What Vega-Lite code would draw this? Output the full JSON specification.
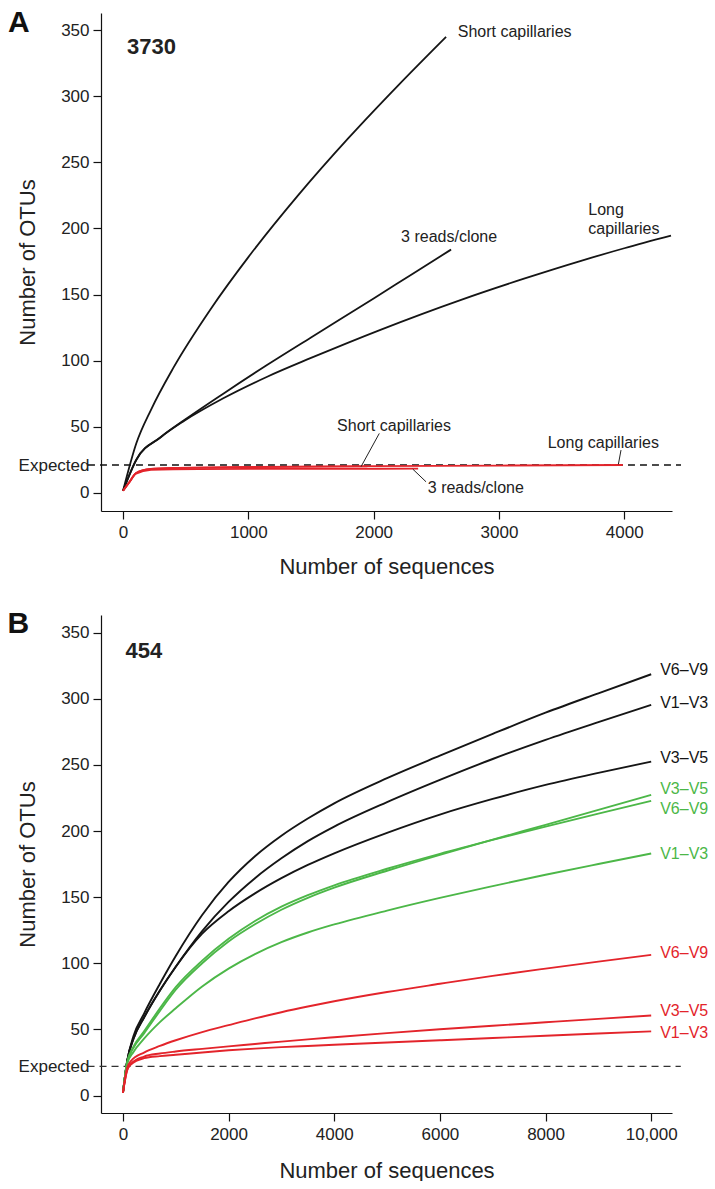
{
  "$schema": "https://vega.github.io/schema/vega-lite/v6.json",
  "background": "white",
  "padding": {"left": 7, "top": 8, "right": 0, "bottom": 0},
  "spacing": 31,
  "resolve": {"scale": {"color": "independent"}},
  "config": {
    "view": {"stroke": null},
    "font": "Liberation Sans",
    "axis": {"domainColor": "#111", "tickColor": "#111", "labelColor": "#222", "titleColor": "#222", "labelFont": "Liberation Sans", "titleFont": "Liberation Sans", "labelFontSize": 17, "titleFontSize": 22, "titleFontWeight": "normal", "grid": false, "tickSize": 8, "domainWidth": 1.2, "tickWidth": 1.2, "labelPadding": 4},
    "text": {"font": "Liberation Sans"}
  },
  "datasets": {
    "curvesA": [
      {"s": "A_short", "g": "black", "x": 0, "y": 1.5}, {"s": "A_short", "g": "black", "x": 106, "y": 37.4}, {"s": "A_short", "g": "black", "x": 223, "y": 62.8}, {"s": "A_short", "g": "black", "x": 400, "y": 94.3}, {"s": "A_short", "g": "black", "x": 700, "y": 139.1}, {"s": "A_short", "g": "black", "x": 1000, "y": 178.3}, {"s": "A_short", "g": "black", "x": 1400, "y": 225.4}, {"s": "A_short", "g": "black", "x": 1800, "y": 268.5}, {"s": "A_short", "g": "black", "x": 2200, "y": 308.7}, {"s": "A_short", "g": "black", "x": 2578, "y": 345},
      {"s": "A_3r", "g": "black", "x": 0, "y": 1.5}, {"s": "A_3r", "g": "black", "x": 106, "y": 25}, {"s": "A_3r", "g": "black", "x": 300, "y": 42}, {"s": "A_3r", "g": "black", "x": 489, "y": 55}, {"s": "A_3r", "g": "black", "x": 800, "y": 75}, {"s": "A_3r", "g": "black", "x": 1155, "y": 97}, {"s": "A_3r", "g": "black", "x": 1500, "y": 117.5}, {"s": "A_3r", "g": "black", "x": 2000, "y": 147}, {"s": "A_3r", "g": "black", "x": 2300, "y": 165}, {"s": "A_3r", "g": "black", "x": 2618, "y": 184},
      {"s": "A_long", "g": "black", "x": 0, "y": 1.5}, {"s": "A_long", "g": "black", "x": 106, "y": 25}, {"s": "A_long", "g": "black", "x": 300, "y": 42}, {"s": "A_long", "g": "black", "x": 489, "y": 54.5}, {"s": "A_long", "g": "black", "x": 800, "y": 71.5}, {"s": "A_long", "g": "black", "x": 1155, "y": 88}, {"s": "A_long", "g": "black", "x": 1500, "y": 102}, {"s": "A_long", "g": "black", "x": 2059, "y": 123.5}, {"s": "A_long", "g": "black", "x": 2698, "y": 146}, {"s": "A_long", "g": "black", "x": 3200, "y": 162}, {"s": "A_long", "g": "black", "x": 3655, "y": 175.5}, {"s": "A_long", "g": "black", "x": 4000, "y": 185}, {"s": "A_long", "g": "black", "x": 4373, "y": 194.5},
      {"s": "A_short_r", "g": "red", "x": 0, "y": 1.5}, {"s": "A_short_r", "g": "red", "x": 50, "y": 8}, {"s": "A_short_r", "g": "red", "x": 104, "y": 15}, {"s": "A_short_r", "g": "red", "x": 223, "y": 18}, {"s": "A_short_r", "g": "red", "x": 400, "y": 18.6}, {"s": "A_short_r", "g": "red", "x": 1000, "y": 19.3}, {"s": "A_short_r", "g": "red", "x": 1500, "y": 19.7}, {"s": "A_short_r", "g": "red", "x": 1950, "y": 20},
      {"s": "A_3r_r", "g": "red", "x": 0, "y": 1.5}, {"s": "A_3r_r", "g": "red", "x": 50, "y": 8}, {"s": "A_3r_r", "g": "red", "x": 104, "y": 14.5}, {"s": "A_3r_r", "g": "red", "x": 223, "y": 17.3}, {"s": "A_3r_r", "g": "red", "x": 400, "y": 17.8}, {"s": "A_3r_r", "g": "red", "x": 1000, "y": 18}, {"s": "A_3r_r", "g": "red", "x": 1700, "y": 18.1}, {"s": "A_3r_r", "g": "red", "x": 2355, "y": 18.2},
      {"s": "A_long_r", "g": "red", "x": 0, "y": 1.5}, {"s": "A_long_r", "g": "red", "x": 50, "y": 8}, {"s": "A_long_r", "g": "red", "x": 104, "y": 15}, {"s": "A_long_r", "g": "red", "x": 223, "y": 18}, {"s": "A_long_r", "g": "red", "x": 400, "y": 18.8}, {"s": "A_long_r", "g": "red", "x": 1000, "y": 19.5}, {"s": "A_long_r", "g": "red", "x": 2000, "y": 20.1}, {"s": "A_long_r", "g": "red", "x": 3000, "y": 20.6}, {"s": "A_long_r", "g": "red", "x": 3988, "y": 21}
    ],
    "curvesB": [
      {"s": "BK69", "g": "black", "x": 0, "y": 2}, {"s": "BK69", "g": "black", "x": 80, "y": 26}, {"s": "BK69", "g": "black", "x": 200, "y": 45}, {"s": "BK69", "g": "black", "x": 400, "y": 62}, {"s": "BK69", "g": "black", "x": 700, "y": 84.5}, {"s": "BK69", "g": "black", "x": 1000, "y": 105.5}, {"s": "BK69", "g": "black", "x": 1500, "y": 136.5}, {"s": "BK69", "g": "black", "x": 2000, "y": 161.5}, {"s": "BK69", "g": "black", "x": 2500, "y": 181}, {"s": "BK69", "g": "black", "x": 3000, "y": 196.5}, {"s": "BK69", "g": "black", "x": 3500, "y": 209.5}, {"s": "BK69", "g": "black", "x": 4000, "y": 221}, {"s": "BK69", "g": "black", "x": 5000, "y": 240}, {"s": "BK69", "g": "black", "x": 6000, "y": 257}, {"s": "BK69", "g": "black", "x": 7000, "y": 273.5}, {"s": "BK69", "g": "black", "x": 8000, "y": 289.5}, {"s": "BK69", "g": "black", "x": 9000, "y": 304.2}, {"s": "BK69", "g": "black", "x": 10000, "y": 318.6},
      {"s": "BK13", "g": "black", "x": 0, "y": 2}, {"s": "BK13", "g": "black", "x": 80, "y": 26}, {"s": "BK13", "g": "black", "x": 200, "y": 43}, {"s": "BK13", "g": "black", "x": 400, "y": 59}, {"s": "BK13", "g": "black", "x": 700, "y": 79.4}, {"s": "BK13", "g": "black", "x": 1000, "y": 97.4}, {"s": "BK13", "g": "black", "x": 1500, "y": 124.4}, {"s": "BK13", "g": "black", "x": 2000, "y": 146.4}, {"s": "BK13", "g": "black", "x": 2500, "y": 164.4}, {"s": "BK13", "g": "black", "x": 3000, "y": 179.4}, {"s": "BK13", "g": "black", "x": 3500, "y": 192.4}, {"s": "BK13", "g": "black", "x": 4000, "y": 203.4}, {"s": "BK13", "g": "black", "x": 5000, "y": 221.9}, {"s": "BK13", "g": "black", "x": 6000, "y": 238.7}, {"s": "BK13", "g": "black", "x": 7000, "y": 254.5}, {"s": "BK13", "g": "black", "x": 8000, "y": 269}, {"s": "BK13", "g": "black", "x": 9000, "y": 282.4}, {"s": "BK13", "g": "black", "x": 10000, "y": 295.4},
      {"s": "BK35", "g": "black", "x": 0, "y": 2}, {"s": "BK35", "g": "black", "x": 80, "y": 26}, {"s": "BK35", "g": "black", "x": 200, "y": 43}, {"s": "BK35", "g": "black", "x": 400, "y": 59}, {"s": "BK35", "g": "black", "x": 700, "y": 79.4}, {"s": "BK35", "g": "black", "x": 1000, "y": 97.4}, {"s": "BK35", "g": "black", "x": 1500, "y": 122.4}, {"s": "BK35", "g": "black", "x": 2000, "y": 139.4}, {"s": "BK35", "g": "black", "x": 2500, "y": 152.9}, {"s": "BK35", "g": "black", "x": 3000, "y": 164.4}, {"s": "BK35", "g": "black", "x": 3500, "y": 174.4}, {"s": "BK35", "g": "black", "x": 4000, "y": 183.2}, {"s": "BK35", "g": "black", "x": 5000, "y": 198.7}, {"s": "BK35", "g": "black", "x": 6000, "y": 212.5}, {"s": "BK35", "g": "black", "x": 7000, "y": 224.3}, {"s": "BK35", "g": "black", "x": 8000, "y": 234.9}, {"s": "BK35", "g": "black", "x": 9000, "y": 244}, {"s": "BK35", "g": "black", "x": 10000, "y": 252.5},
      {"s": "GR35", "g": "green", "x": 0, "y": 2}, {"s": "GR35", "g": "green", "x": 80, "y": 25}, {"s": "GR35", "g": "green", "x": 200, "y": 36}, {"s": "GR35", "g": "green", "x": 400, "y": 47}, {"s": "GR35", "g": "green", "x": 700, "y": 64}, {"s": "GR35", "g": "green", "x": 1000, "y": 80}, {"s": "GR35", "g": "green", "x": 1500, "y": 100}, {"s": "GR35", "g": "green", "x": 2000, "y": 116.5}, {"s": "GR35", "g": "green", "x": 2500, "y": 129.5}, {"s": "GR35", "g": "green", "x": 3000, "y": 140.5}, {"s": "GR35", "g": "green", "x": 3500, "y": 149.5}, {"s": "GR35", "g": "green", "x": 4000, "y": 157.2}, {"s": "GR35", "g": "green", "x": 5000, "y": 170}, {"s": "GR35", "g": "green", "x": 6000, "y": 182}, {"s": "GR35", "g": "green", "x": 7000, "y": 193.5}, {"s": "GR35", "g": "green", "x": 8000, "y": 204.7}, {"s": "GR35", "g": "green", "x": 9000, "y": 216}, {"s": "GR35", "g": "green", "x": 10000, "y": 227.4},
      {"s": "GR69", "g": "green", "x": 0, "y": 2}, {"s": "GR69", "g": "green", "x": 80, "y": 25}, {"s": "GR69", "g": "green", "x": 200, "y": 37}, {"s": "GR69", "g": "green", "x": 400, "y": 48.5}, {"s": "GR69", "g": "green", "x": 700, "y": 66}, {"s": "GR69", "g": "green", "x": 1000, "y": 82}, {"s": "GR69", "g": "green", "x": 1500, "y": 102}, {"s": "GR69", "g": "green", "x": 2000, "y": 118.5}, {"s": "GR69", "g": "green", "x": 2500, "y": 132}, {"s": "GR69", "g": "green", "x": 3000, "y": 142.8}, {"s": "GR69", "g": "green", "x": 3500, "y": 151.5}, {"s": "GR69", "g": "green", "x": 4000, "y": 159}, {"s": "GR69", "g": "green", "x": 5000, "y": 171.5}, {"s": "GR69", "g": "green", "x": 6000, "y": 182.8}, {"s": "GR69", "g": "green", "x": 7000, "y": 193.3}, {"s": "GR69", "g": "green", "x": 8000, "y": 203.4}, {"s": "GR69", "g": "green", "x": 9000, "y": 213.2}, {"s": "GR69", "g": "green", "x": 10000, "y": 222.8},
      {"s": "GR13", "g": "green", "x": 0, "y": 2}, {"s": "GR13", "g": "green", "x": 80, "y": 24}, {"s": "GR13", "g": "green", "x": 200, "y": 33}, {"s": "GR13", "g": "green", "x": 400, "y": 43}, {"s": "GR13", "g": "green", "x": 700, "y": 55.5}, {"s": "GR13", "g": "green", "x": 1000, "y": 66}, {"s": "GR13", "g": "green", "x": 1500, "y": 82.5}, {"s": "GR13", "g": "green", "x": 2000, "y": 96}, {"s": "GR13", "g": "green", "x": 2500, "y": 107}, {"s": "GR13", "g": "green", "x": 3000, "y": 116}, {"s": "GR13", "g": "green", "x": 3500, "y": 123.3}, {"s": "GR13", "g": "green", "x": 4000, "y": 129.4}, {"s": "GR13", "g": "green", "x": 5000, "y": 139.9}, {"s": "GR13", "g": "green", "x": 6000, "y": 149.5}, {"s": "GR13", "g": "green", "x": 7000, "y": 158.4}, {"s": "GR13", "g": "green", "x": 8000, "y": 167}, {"s": "GR13", "g": "green", "x": 9000, "y": 175.1}, {"s": "GR13", "g": "green", "x": 10000, "y": 183},
      {"s": "RD69", "g": "red", "x": 0, "y": 2}, {"s": "RD69", "g": "red", "x": 80, "y": 21}, {"s": "RD69", "g": "red", "x": 150, "y": 26}, {"s": "RD69", "g": "red", "x": 400, "y": 32.5}, {"s": "RD69", "g": "red", "x": 700, "y": 37.5}, {"s": "RD69", "g": "red", "x": 1000, "y": 41.8}, {"s": "RD69", "g": "red", "x": 1500, "y": 48}, {"s": "RD69", "g": "red", "x": 2000, "y": 53.2}, {"s": "RD69", "g": "red", "x": 2500, "y": 58.3}, {"s": "RD69", "g": "red", "x": 3000, "y": 63}, {"s": "RD69", "g": "red", "x": 3500, "y": 67.3}, {"s": "RD69", "g": "red", "x": 4000, "y": 71.3}, {"s": "RD69", "g": "red", "x": 5000, "y": 78.3}, {"s": "RD69", "g": "red", "x": 6000, "y": 84.5}, {"s": "RD69", "g": "red", "x": 7000, "y": 90.5}, {"s": "RD69", "g": "red", "x": 8000, "y": 96}, {"s": "RD69", "g": "red", "x": 9000, "y": 101.3}, {"s": "RD69", "g": "red", "x": 10000, "y": 106.4},
      {"s": "RD35", "g": "red", "x": 0, "y": 2}, {"s": "RD35", "g": "red", "x": 80, "y": 19.5}, {"s": "RD35", "g": "red", "x": 150, "y": 24}, {"s": "RD35", "g": "red", "x": 400, "y": 29.5}, {"s": "RD35", "g": "red", "x": 700, "y": 31.8}, {"s": "RD35", "g": "red", "x": 1000, "y": 33.3}, {"s": "RD35", "g": "red", "x": 1500, "y": 35.3}, {"s": "RD35", "g": "red", "x": 2000, "y": 37.2}, {"s": "RD35", "g": "red", "x": 2500, "y": 39}, {"s": "RD35", "g": "red", "x": 3000, "y": 40.8}, {"s": "RD35", "g": "red", "x": 3500, "y": 42.5}, {"s": "RD35", "g": "red", "x": 4000, "y": 44.1}, {"s": "RD35", "g": "red", "x": 5000, "y": 47.2}, {"s": "RD35", "g": "red", "x": 6000, "y": 50.1}, {"s": "RD35", "g": "red", "x": 7000, "y": 52.8}, {"s": "RD35", "g": "red", "x": 8000, "y": 55.4}, {"s": "RD35", "g": "red", "x": 9000, "y": 58}, {"s": "RD35", "g": "red", "x": 10000, "y": 60.5},
      {"s": "RD13", "g": "red", "x": 0, "y": 2}, {"s": "RD13", "g": "red", "x": 80, "y": 19}, {"s": "RD13", "g": "red", "x": 150, "y": 23.5}, {"s": "RD13", "g": "red", "x": 400, "y": 28.3}, {"s": "RD13", "g": "red", "x": 700, "y": 29.8}, {"s": "RD13", "g": "red", "x": 1000, "y": 30.8}, {"s": "RD13", "g": "red", "x": 1500, "y": 32.6}, {"s": "RD13", "g": "red", "x": 2000, "y": 34.2}, {"s": "RD13", "g": "red", "x": 2500, "y": 35.5}, {"s": "RD13", "g": "red", "x": 3000, "y": 36.6}, {"s": "RD13", "g": "red", "x": 3500, "y": 37.5}, {"s": "RD13", "g": "red", "x": 4000, "y": 38.4}, {"s": "RD13", "g": "red", "x": 5000, "y": 40.1}, {"s": "RD13", "g": "red", "x": 6000, "y": 41.8}, {"s": "RD13", "g": "red", "x": 7000, "y": 43.5}, {"s": "RD13", "g": "red", "x": 8000, "y": 45.2}, {"s": "RD13", "g": "red", "x": 9000, "y": 46.9}, {"s": "RD13", "g": "red", "x": 10000, "y": 48.5}
    ]
  },
  "vconcat": [
    {
      "width": 571,
      "height": 498,
      "encoding": {
        "x": {"field": "x", "type": "quantitative", "scale": {"domain": [-176, 4381], "nice": false, "zero": false},
          "axis": {"values": [0, 1000, 2000, 3000, 4000], "format": "d", "title": "Number of sequences", "titleY": 62, "titleBaseline": "alphabetic", "labelPadding": 5}},
        "y": {"field": "y", "type": "quantitative", "scale": {"domain": [-13.8, 363], "nice": false, "zero": false},
          "axis": {"values": [0, 21, 50, 100, 150, 200, 250, 300, 350], "labelExpr": "datum.value == 21 ? 'Expected' : datum.label", "tickOpacity": {"condition": {"test": "datum.value == 21", "value": 0}, "value": 1}, "labelOverlap": false, "title": "Number of OTUs", "titleX": -67, "titleBaseline": "alphabetic"}}
      },
      "layer": [
        {"data": {"values": [{"x": -280, "x2": 4453, "y": 21}]}, "mark": {"type": "rule", "strokeDash": [7, 5], "strokeWidth": 1.3, "color": "#111"}, "encoding": {"x2": {"field": "x2"}}},
        {"data": {"name": "curvesA"}, "mark": {"type": "line", "interpolate": "monotone", "strokeWidth": 1.8},
          "encoding": {"color": {"field": "g", "type": "nominal", "scale": {"domain": ["black", "green", "red"], "range": ["#151515", "#4cb748", "#e3242b"]}, "legend": null}, "detail": {"field": "s"}}},
        {"data": {"values": [{"x": 2045, "y": 44.9, "x2": 1899, "y2": 19.7}, {"x": 3974, "y": 32.3, "x2": 3953, "y2": 21.5}, {"x": 2312, "y": 17.9, "x2": 2418, "y2": 8.3}]},
          "mark": {"type": "rule", "strokeWidth": 1, "color": "#222"}, "encoding": {"x2": {"field": "x2"}, "y2": {"field": "y2"}}},
        {"data": {"values": [
            {"x": 2671, "y": 348.7, "label": "Short capillaries"},
            {"x": 2219, "y": 193.6, "label": "3 reads/clone"},
            {"x": 3713, "y": 213.8, "label": "Long"},
            {"x": 3713, "y": 199.5, "label": "capillaries"},
            {"x": 1708, "y": 50.4, "label": "Short capillaries"},
            {"x": 3389, "y": 37.4, "label": "Long capillaries"},
            {"x": 2432, "y": 3.3, "label": "3 reads/clone"}
          ]},
          "mark": {"type": "text", "align": "left", "baseline": "middle", "fontSize": 16, "color": "#222"},
          "encoding": {"text": {"field": "label"}}},
        {"data": {"values": [{"x": 32, "y": 337, "label": "3730"}]},
          "mark": {"type": "text", "align": "left", "baseline": "middle", "fontSize": 22, "fontWeight": "bold", "color": "#222"},
          "encoding": {"text": {"field": "label"}}},
        {"data": {"values": [{"x": -918, "y": 348.5, "label": "A"}]},
          "mark": {"type": "text", "align": "left", "baseline": "alphabetic", "fontSize": 30, "fontWeight": "bold", "color": "#111"},
          "encoding": {"text": {"field": "label"}}}
      ]
    },
    {
      "width": 571,
      "height": 498,
      "encoding": {
        "x": {"field": "x", "type": "quantitative", "scale": {"domain": [-415, 10394], "nice": false, "zero": false},
          "axis": {"values": [0, 2000, 4000, 6000, 8000, 10000], "labelExpr": "datum.value == 10000 ? '10,000' : format(datum.value, 'd')", "title": "Number of sequences", "titleY": 64, "titleBaseline": "alphabetic", "labelPadding": 5}},
        "y": {"field": "y", "type": "quantitative", "scale": {"domain": [-13.2, 363.4], "nice": false, "zero": false},
          "axis": {"values": [0, 22, 50, 100, 150, 200, 250, 300, 350], "labelExpr": "datum.value == 22 ? 'Expected' : datum.label", "tickOpacity": {"condition": {"test": "datum.value == 22", "value": 0}, "value": 1}, "labelOverlap": false, "title": "Number of OTUs", "titleX": -67, "titleBaseline": "alphabetic"}}
      },
      "layer": [
        {"data": {"values": [{"x": -670, "x2": 10560, "y": 22}]}, "mark": {"type": "rule", "strokeDash": [7, 5], "strokeWidth": 1.3, "color": "#333"}, "encoding": {"x2": {"field": "x2"}}},
        {"data": {"name": "curvesB"}, "mark": {"type": "line", "interpolate": "monotone", "strokeWidth": 1.9},
          "encoding": {"color": {"field": "g", "type": "nominal", "scale": {"domain": ["black", "green", "red"], "range": ["#151515", "#4cb748", "#e3242b"]}, "legend": null}, "detail": {"field": "s"}}},
        {"data": {"values": [
            {"x": 10000, "y": 321.9, "g": "black", "label": "V6–V9"},
            {"x": 10000, "y": 296.7, "g": "black", "label": "V1–V3"},
            {"x": 10000, "y": 255.1, "g": "black", "label": "V3–V5"},
            {"x": 10000, "y": 231.7, "g": "green", "label": "V3–V5"},
            {"x": 10000, "y": 216.6, "g": "green", "label": "V6–V9"},
            {"x": 10000, "y": 182.5, "g": "green", "label": "V1–V3"},
            {"x": 10000, "y": 107.7, "g": "red", "label": "V6–V9"},
            {"x": 10000, "y": 63.6, "g": "red", "label": "V3–V5"},
            {"x": 10000, "y": 47.2, "g": "red", "label": "V1–V3"}
          ]},
          "mark": {"type": "text", "align": "left", "baseline": "middle", "fontSize": 16, "dx": 9},
          "encoding": {"text": {"field": "label"}, "color": {"field": "g", "type": "nominal", "scale": {"domain": ["black", "green", "red"], "range": ["#151515", "#4cb748", "#e3242b"]}, "legend": null}}},
        {"data": {"values": [{"x": 49, "y": 336.2, "label": "454"}]},
          "mark": {"type": "text", "align": "left", "baseline": "middle", "fontSize": 22, "fontWeight": "bold", "color": "#222"},
          "encoding": {"text": {"field": "label"}}},
        {"data": {"values": [{"x": -2186, "y": 349.8, "label": "B"}]},
          "mark": {"type": "text", "align": "left", "baseline": "alphabetic", "fontSize": 30, "fontWeight": "bold", "color": "#111"},
          "encoding": {"text": {"field": "label"}}}
      ]
    }
  ]
}
